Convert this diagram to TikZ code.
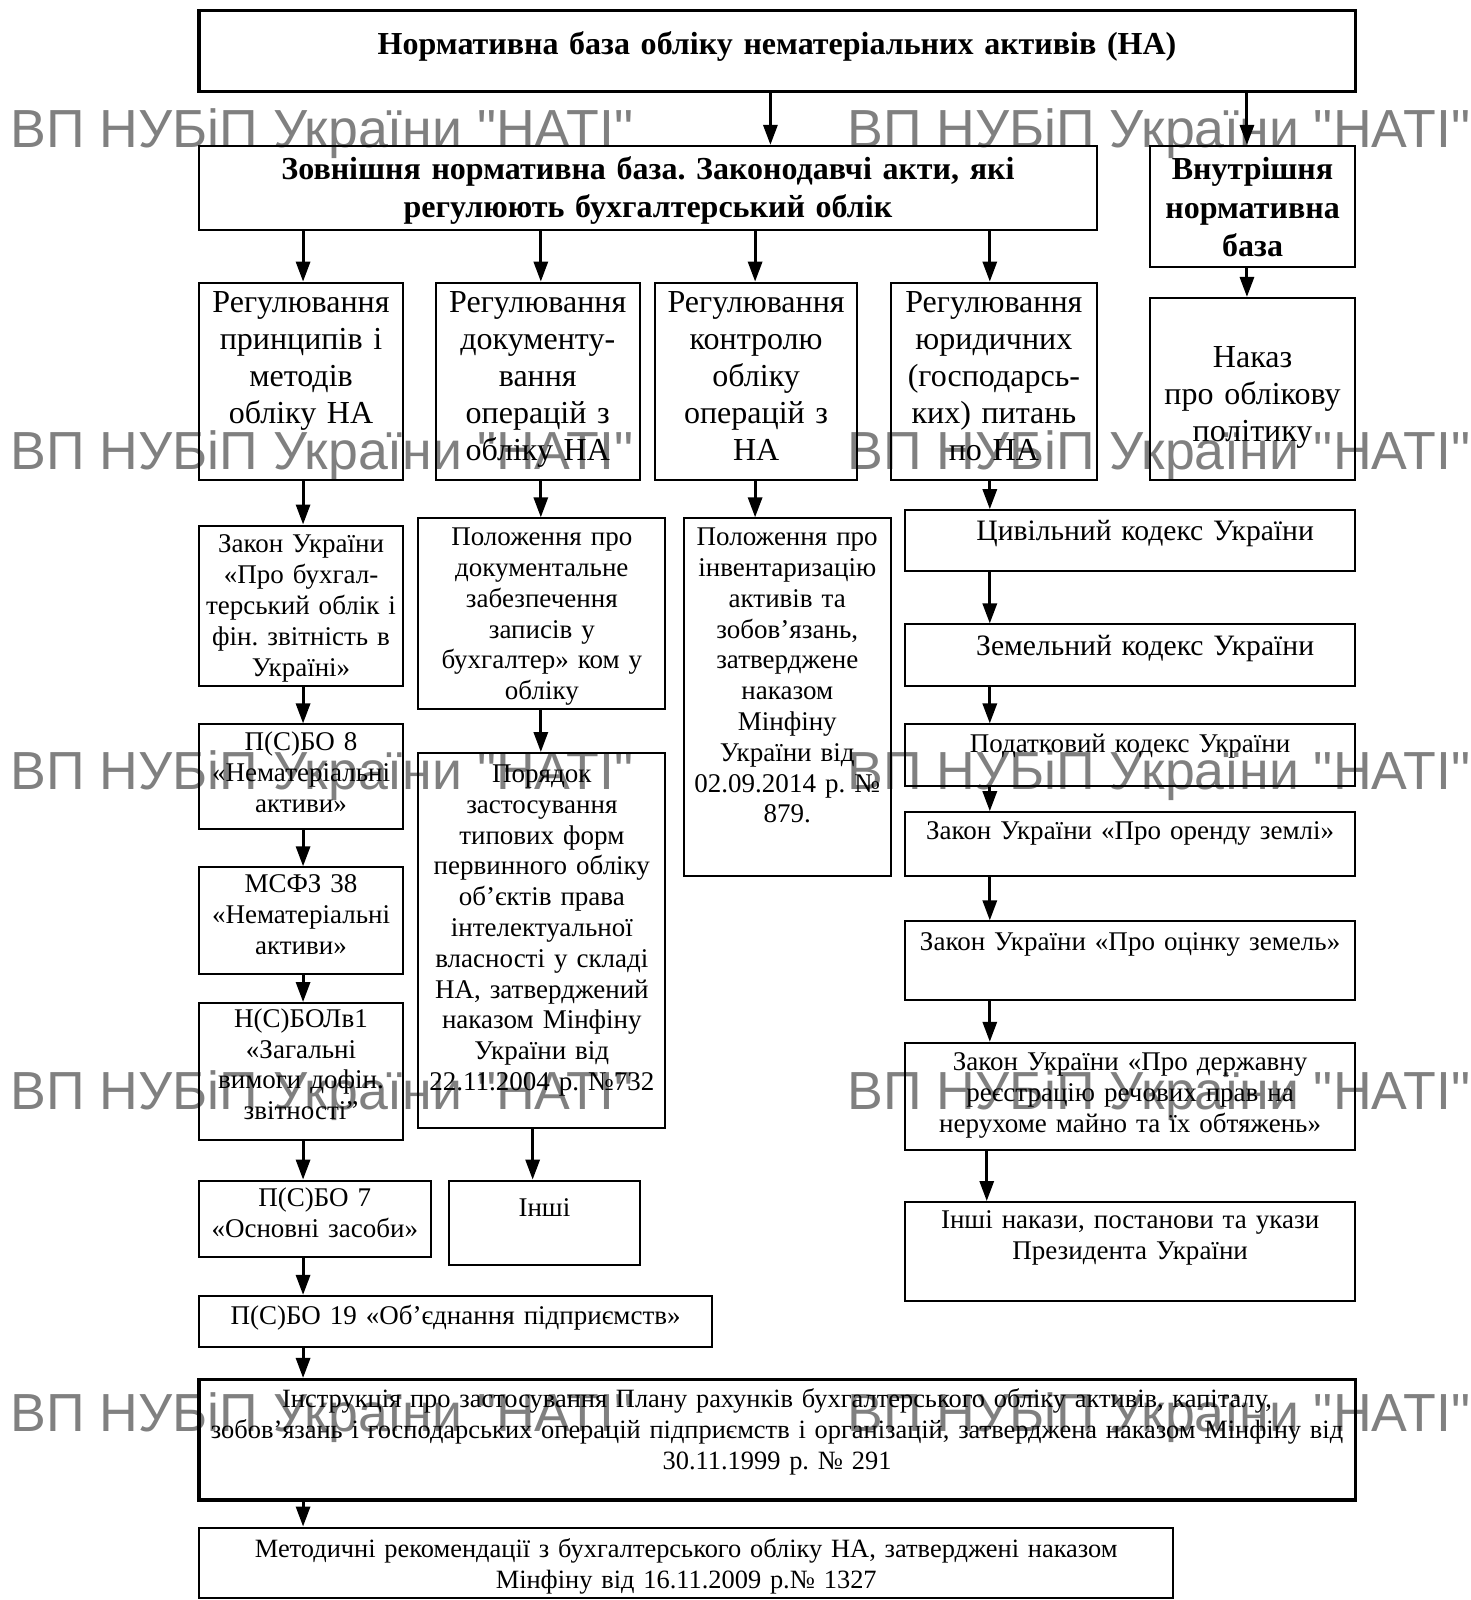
\documentclass[tikz,border=0pt]{standalone}
\usepackage{fontspec}
\setmainfont{Liberation Serif}
\newfontfamily\wmfont{Liberation Sans}
\usetikzlibrary{fit,arrows.meta,calc}
\frenchspacing
\tikzset{
 box/.style={draw,line width=1pt,inner sep=0pt},
 tbox/.style={draw,line width=1.6pt,inner sep=0pt},
 txt/.style={inner sep=0pt,align=center},
 arr/.style={line width=1.5pt,-{Triangle[width=7pt,length=10pt]}},
 wm/.style={inner sep=0pt,anchor=base west,text=black!50,font=\wmfont\fontsize{26.8}{28}\selectfont}
}
\newcommand\fT{\frenchspacing\bfseries\fontsize{16}{19.2}\selectfont}
\newcommand\fA{\frenchspacing\fontsize{16}{18.5}\selectfont}
\newcommand\fB{\frenchspacing\fontsize{13.5}{15.4}\selectfont}
\newcommand\fD{\frenchspacing\fontsize{13.2}{15.6}\selectfont}
\newcommand\fE{\frenchspacing\fontsize{13.5}{15.6}\selectfont}
\newcommand\fF{\frenchspacing\fontsize{14.8}{15.6}\selectfont}
% #1 box style, #2 name, #3-#6 corners, #7 top of text, #8 font, #9 text
\newcommand\bx[9][box]{%
 \node[#1,fit={(#3,#4)(#5,#6)}] (#2) {};
 \pgfmathsetmacro\tw{(#5-#3)*0.51-4}%
 \node[txt,text width=\tw pt,anchor=north,font=#8] (#2t) at (#2.north |- 0,#7) {#9};
}
\newcommand\ar[3]{\draw[arr] (#1.south -| #3,0) -- (#2.north -| #3,0);}
\begin{document}
\begin{tikzpicture}[x=0.51pt,y=-0.51pt]
\useasboundingbox (0,0) rectangle (1441,1568);
% watermark
\foreach \yy/\n in {145/1,460/2,774/3,1087/4,1403/5}{
 \node[wm] (wmL\n) at (10,\yy) {ВП НУБіП України "НАТІ"};
 \node[wm] (wmR\n) at (830,\yy) {ВП НУБіП України "НАТІ"};
}
% top
\bx[tbox]{top}{195}{10}{1328}{90}{31}{\fT}{Нормативна база обліку нематеріальних активів (НА)}
\bx{ext}{195}{143}{1075}{225}{153}{\fT}{Зовнішня нормативна база. Законодавчі акти, які\\ регулюють бухгалтерський облік}
\bx{int}{1127}{143}{1328}{262}{154}{\fT}{Внутрішня\\ нормативна\\ база}
% row
\bx{r1}{195}{277}{395}{470}{285}{\fA}{Регулювання\\ принципів і\\ методів\\ обліку НА}
\bx{r2}{427}{277}{627}{470}{285}{\fA}{Регулювання\\ документу-\\ вання\\ операцій з\\ обліку НА}
\bx{r3}{642}{277}{840}{470}{285}{\fA}{Регулювання\\ контролю\\ обліку\\ операцій з\\ НА}
\bx{r4}{873}{277}{1075}{470}{285}{\fA}{Регулювання\\ юридичних\\ (господарсь-\\ ких) питань\\ по НА}
\bx{nak}{1127}{292}{1328}{470}{339}{\fA}{Наказ\\ про облікову\\ політику}
% column 1
\bx{z1}{195}{515}{395}{672}{524}{\fB}{Закон України\\ «Про бухгал-\\ терський облік і\\ фін. звітність в\\ Україні»}
\bx{p8}{195}{710}{395}{812}{717}{\fB}{П(С)БО 8\\ «Нематеріальні\\ активи»}
\bx{ms}{195}{850}{395}{955}{857}{\fB}{МСФЗ 38\\ «Нематеріальні\\ активи»}
\bx{ns}{195}{983}{395}{1117}{988}{\fB}{Н(С)БОЛв1\\ «Загальні\\ вимоги дофін.\\ звітності"}
\bx{p7}{195}{1157}{422}{1232}{1164}{\fB}{П(С)БО 7\\ «Основні засоби»}
\bx{p19}{195}{1270}{698}{1320}{1279}{\fB}{П(С)БО 19 «Об'єднання підприємств»}
\bx[tbox]{ins}{195}{1352}{1328}{1470}{1360}{\fD}{Інструкція про застосування Плану рахунків бухгалтерського обліку активів, капіталу,\\ зобов'язань і господарських операцій підприємств і організацій, затверджена наказом Мінфіну від\\ 30.11.1999 р. № 291}
\bx{met}{195}{1497}{1150}{1566}{1507}{\fD}{Методичні рекомендації з бухгалтерського обліку НА, затверджені наказом\\ Мінфіну від 16.11.2009 р.№ 1327}
% column 2
\bx{pd}{410}{508}{652}{695}{517}{\fB}{Положення про\\ документальне\\ забезпечення\\ записів у\\ бухгалтер» ком у\\ обліку}
\bx{por}{410}{738}{652}{1105}{749}{\fB}{Порядок\\ застосування\\ типових форм\\ первинного обліку\\ об'єктів права\\ інтелектуальної\\ власності у складі\\ НА, затверджений\\ наказом Мінфіну\\ України від\\ 22.11.2004 р. №732}
\bx{inshi}{440}{1157}{627}{1240}{1174}{\fB}{Інші}
% column 3
\bx{pi}{670}{508}{873}{858}{517}{\fB}{Положення про\\ інвентаризацію\\ активів та\\ зобов'язань,\\ затверджене\\ наказом\\ Мінфіну\\ України від\\ 02.09.2014 р. №\\ 879.}
% column 4
\bx{c1}{887}{500}{1328}{560}{509}{\fF}{\hspace*{15pt}Цивільний кодекс України}
\bx{c2}{887}{612}{1328}{672}{622}{\fF}{\hspace*{15pt}Земельний кодекс України}
\bx{c3}{887}{710}{1328}{770}{719}{\fE}{Податковий кодекс України}
\bx{c4}{887}{796}{1328}{858}{805}{\fE}{Закон України «Про оренду землі»}
\bx{c5}{887}{903}{1328}{980}{914}{\fE}{Закон України «Про оцінку земель»}
\bx{c6}{887}{1022}{1328}{1127}{1031}{\fE}{Закон України «Про державну\\ реєстрацію речових прав на\\ нерухоме майно та їх обтяжень»}
\bx{c7}{887}{1178}{1328}{1275}{1186}{\fE}{Інші накази, постанови та укази\\ Президента України}
% arrows
\ar{top}{ext}{755}
\ar{top}{int}{1222}
\ar{ext}{r1}{297}
\ar{ext}{r2}{530}
\ar{ext}{r3}{740}
\ar{ext}{r4}{970}
\ar{int}{nak}{1222}
\ar{r1}{z1}{297}
\ar{z1}{p8}{297}
\ar{p8}{ms}{297}
\ar{ms}{ns}{297}
\ar{ns}{p7}{297}
\ar{p7}{p19}{297}
\ar{p19}{ins}{297}
\ar{ins}{met}{297}
\ar{r2}{pd}{530}
\ar{pd}{por}{530}
\ar{por}{inshi}{522}
\ar{r3}{pi}{740}
\ar{r4}{c1}{970}
\ar{c1}{c2}{970}
\ar{c2}{c3}{970}
\ar{c3}{c4}{970}
\ar{c4}{c5}{970}
\ar{c5}{c6}{970}
\ar{c6}{c7}{967}
\end{tikzpicture}
\end{document}
